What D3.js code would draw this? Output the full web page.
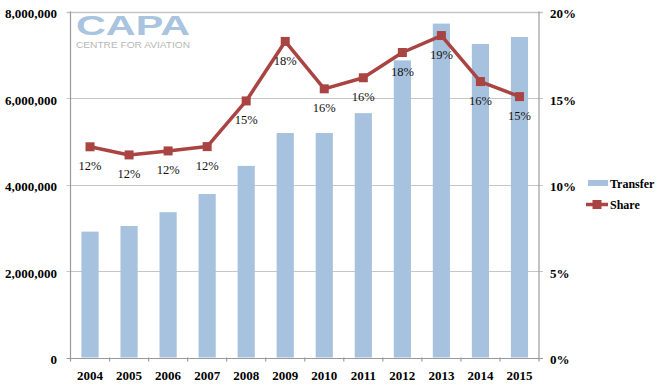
<!DOCTYPE html>
<html>
<head>
<meta charset="utf-8">
<script src="https://cdn.jsdelivr.net/npm/d3@7"></script>
<style>
  body { margin: 0; background: #fff; }
  svg { display: block; }
</style>
</head>
<body>
<div id="chart"></div>
<script>
// data
var years = [ '2004', '2005', '2006', '2007', '2008', '2009', '2010', '2011', '2012', '2013', '2014', '2015' ];
var transfer = [ 2910000, 3040000, 3360000, 3780000, 4430000, 5190000, 5190000, 5650000, 6870000, 7720000, 7250000, 7410000 ];
var share = [ 12.18, 11.71, 11.94, 12.19, 14.83, 18.27, 15.53, 16.17, 17.63, 18.61, 15.95, 15.08 ];
var shareLabels = [ '12%', '12%', '12%', '12%', '15%', '18%', '16%', '16%', '18%', '19%', '16%', '15%' ];
var leftTicks = [ 0, 2000000, 4000000, 6000000, 8000000 ];
var rightTicks = [ 0, 5, 10, 15, 20 ];

var width = 663;
var height = 387;

var margin = {
    left: 70.5,
    top: 11.5,
    right: 124,
    bottom: 29.5
};

var colors = {
    bar: '#a7c2df',
    line: '#a94442',
    grid: '#c6c6c6',
    axis: '#9a9a9a'
};

var axisFont = '"Liberation Serif", "DejaVu Serif", serif';

var svg = d3.select( '#chart' )
            .append( 'svg' )
            .attr( 'width', width )
            .attr( 'height', height );

var plotRight = width - margin.right;
var plotBottom = height - margin.bottom;

var x = d3.scaleBand()
          .domain( years )
          .range( [ margin.left, plotRight ] )
          .paddingInner( 0.56 )
          .paddingOuter( 0.28 );

var band = d3.scaleBand()
             .domain( years )
             .range( [ margin.left, plotRight ] );

var yLeft = d3.scaleLinear()
              .domain( [ 0, 8000000 ] )
              .range( [ plotBottom, margin.top ] );

var yRight = d3.scaleLinear()
               .domain( [ 0, 20 ] )
               .range( [ plotBottom, margin.top ] );

// gridlines
svg.append( 'g' )
   .selectAll( 'line' )
   .data( leftTicks )
   .enter()
   .append( 'line' )
   .attr( 'x1', margin.left - 4 )
   .attr( 'x2', plotRight + 4 )
   .attr( 'y1', function( d ) { return Math.round( yLeft( d ) ) + 0.5; } )
   .attr( 'y2', function( d ) { return Math.round( yLeft( d ) ) + 0.5; } )
   .attr( 'stroke', function( d ) { return d == 0 ? colors.axis : colors.grid; } )
   .attr( 'stroke-width', function( d ) { return d == 8000000 ? 1.6 : 1.2; } );

// logo
var logo = svg.append( 'g' );
logo.append( 'text' )
    .attr( 'x', 76 )
    .attr( 'y', 34.5 )
    .attr( 'font-family', '"Liberation Sans", Arial, sans-serif' )
    .attr( 'font-weight', 'bold' )
    .attr( 'font-size', 27 )
    .attr( 'textLength', 114 )
    .attr( 'lengthAdjust', 'spacingAndGlyphs' )
    .attr( 'fill', '#a9c4df' )
    .text( 'CAPA' );
logo.append( 'text' )
    .attr( 'x', 76 )
    .attr( 'y', 48 )
    .attr( 'font-family', '"Liberation Sans", Arial, sans-serif' )
    .attr( 'font-size', 9 )
    .attr( 'textLength', 114 )
    .attr( 'lengthAdjust', 'spacingAndGlyphs' )
    .attr( 'fill', '#b8b8b8' )
    .text( 'CENTRE FOR AVIATION' );

// bars
svg.append( 'g' )
   .selectAll( 'rect' )
   .data( transfer )
   .enter()
   .append( 'rect' )
   .attr( 'x', function( d, i ) { return x( years[ i ] ); } )
   .attr( 'y', function( d ) { return yLeft( d ); } )
   .attr( 'width', x.bandwidth() )
   .attr( 'height', function( d ) { return plotBottom - yLeft( d ); } )
   .attr( 'fill', colors.bar );

// axes lines
svg.append( 'line' )
   .attr( 'x1', margin.left ).attr( 'x2', margin.left )
   .attr( 'y1', margin.top ).attr( 'y2', plotBottom + 4 )
   .attr( 'stroke', colors.axis ).attr( 'stroke-width', 1.2 );
svg.append( 'line' )
   .attr( 'x1', plotRight ).attr( 'x2', plotRight )
   .attr( 'y1', margin.top ).attr( 'y2', plotBottom + 4 )
   .attr( 'stroke', colors.axis ).attr( 'stroke-width', 1.2 );

// x ticks at band boundaries
svg.append( 'g' )
   .selectAll( 'line' )
   .data( years.slice( 1 ) )
   .enter()
   .append( 'line' )
   .attr( 'x1', function( d ) { return band( d ); } )
   .attr( 'x2', function( d ) { return band( d ); } )
   .attr( 'y1', plotBottom )
   .attr( 'y2', plotBottom + 4 )
   .attr( 'stroke', colors.axis )
   .attr( 'stroke-width', 1.2 );

// left tick labels
svg.append( 'g' )
   .selectAll( 'text' )
   .data( leftTicks )
   .enter()
   .append( 'text' )
   .attr( 'x', 57 )
   .attr( 'y', function( d ) { return yLeft( d ) + 6.5; } )
   .attr( 'text-anchor', 'end' )
   .attr( 'font-family', axisFont )
   .attr( 'font-weight', 'bold' )
   .attr( 'font-size', 13 )
   .text( function( d ) { return d3.format( ',' )( d ); } );

// right tick labels
svg.append( 'g' )
   .selectAll( 'text' )
   .data( rightTicks )
   .enter()
   .append( 'text' )
   .attr( 'x', 550 )
   .attr( 'y', function( d ) { return yRight( d ) + 6.5; } )
   .attr( 'font-family', axisFont )
   .attr( 'font-weight', 'bold' )
   .attr( 'font-size', 13 )
   .text( function( d ) { return d + '%'; } );

// year labels
svg.append( 'g' )
   .selectAll( 'text' )
   .data( years )
   .enter()
   .append( 'text' )
   .attr( 'x', function( d ) { return band( d ) + band.bandwidth() / 2; } )
   .attr( 'y', 380 )
   .attr( 'text-anchor', 'middle' )
   .attr( 'font-family', axisFont )
   .attr( 'font-weight', 'bold' )
   .attr( 'font-size', 13 )
   .text( function( d ) { return d; } );

// share line
var lineGen = d3.line()
                .x( function( d, i ) { return band( years[ i ] ) + band.bandwidth() / 2; } )
                .y( function( d ) { return yRight( d ); } );

svg.append( 'path' )
   .datum( share )
   .attr( 'd', lineGen )
   .attr( 'fill', 'none' )
   .attr( 'stroke', colors.line )
   .attr( 'stroke-width', 3.5 )
   .attr( 'stroke-linejoin', 'round' );

svg.append( 'g' )
   .selectAll( 'rect' )
   .data( share )
   .enter()
   .append( 'rect' )
   .attr( 'x', function( d, i ) { return band( years[ i ] ) + band.bandwidth() / 2 - 4.5; } )
   .attr( 'y', function( d ) { return yRight( d ) - 4.5; } )
   .attr( 'width', 9 )
   .attr( 'height', 9 )
   .attr( 'fill', colors.line );

// share labels
svg.append( 'g' )
   .selectAll( 'text' )
   .data( share )
   .enter()
   .append( 'text' )
   .attr( 'x', function( d, i ) { return band( years[ i ] ) + band.bandwidth() / 2; } )
   .attr( 'y', function( d ) { return yRight( d ) + 23.5; } )
   .attr( 'text-anchor', 'middle' )
   .attr( 'font-family', axisFont )
   .attr( 'font-size', 12.5 )
   .attr( 'fill', '#111' )
   .text( function( d, i ) { return shareLabels[ i ]; } );

// legend
var legend = svg.append( 'g' );
legend.append( 'rect' )
      .attr( 'x', 588 ).attr( 'y', 180 )
      .attr( 'width', 20 ).attr( 'height', 6 )
      .attr( 'fill', colors.bar );
legend.append( 'text' )
      .attr( 'x', 610 ).attr( 'y', 188 )
      .attr( 'font-family', axisFont )
      .attr( 'font-weight', 'bold' )
      .attr( 'font-size', 12 )
      .text( 'Transfer' );
legend.append( 'line' )
      .attr( 'x1', 586 ).attr( 'x2', 608 )
      .attr( 'y1', 204.5 ).attr( 'y2', 204.5 )
      .attr( 'stroke', colors.line ).attr( 'stroke-width', 3.5 );
legend.append( 'rect' )
      .attr( 'x', 592.5 ).attr( 'y', 200 )
      .attr( 'width', 9 ).attr( 'height', 9 )
      .attr( 'fill', colors.line );
legend.append( 'text' )
      .attr( 'x', 610 ).attr( 'y', 209 )
      .attr( 'font-family', axisFont )
      .attr( 'font-weight', 'bold' )
      .attr( 'font-size', 12 )
      .text( 'Share' );
</script>
</body>
</html>
